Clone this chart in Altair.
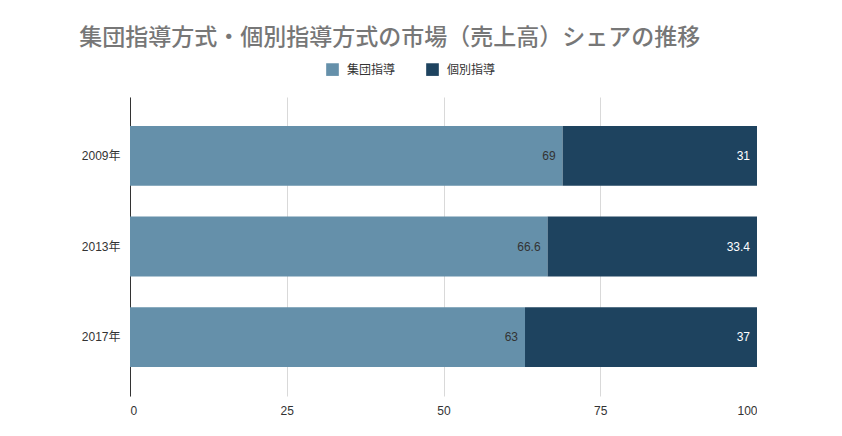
import altair as alt
import pandas as pd

years = ["2009年", "2013年", "2017年"]
group_vals = [69, 66.6, 63]
indiv_vals = [31, 33.4, 37]
series = ["集団指導", "個別指導"]
colors = ["#6590aa", "#1e435f"]

rows = []
for y, g, i in zip(years, group_vals, indiv_vals):
    rows.append({"year": y, "series": series[0], "value": g, "start": 0, "end": g, "ord": 0, "lab": f"{g:g}"})
    rows.append({"year": y, "series": series[1], "value": i, "start": g, "end": g + i, "ord": 1, "lab": f"{i:g}"})
df = pd.DataFrame(rows)

font = "Liberation Sans, Noto Sans CJK JP, sans-serif"

yenc = alt.Y("year:N", sort=years, title=None,
             scale=alt.Scale(paddingInner=0.34, paddingOuter=0.32),
             axis=alt.Axis(labelFont=font, labelFontSize=12, labelColor="#333333",
                           domainColor="#333333", ticks=False, labelPadding=10, grid=False))

bars = alt.Chart(df).mark_bar().encode(
    y=yenc,
    x=alt.X("start:Q", title=None, scale=alt.Scale(domain=[0, 100], nice=False),
            axis=alt.Axis(values=[0, 25, 50, 75, 100], labelFont=font, labelFontSize=12,
                          labelColor="#333333", domain=False, ticks=False, labelPadding=9,
                          grid=True, gridColor="#d9d9d9")),
    x2="end:Q",
    color=alt.Color("series:N", sort=series,
                    scale=alt.Scale(domain=series, range=colors),
                    legend=alt.Legend(title=None, orient="none", direction="horizontal",
                                      legendX=196, legendY=-34, symbolType="square",
                                      symbolSize=160, symbolStrokeWidth=0, labelFont=font,
                                      labelFontSize=12, labelColor="#333333", labelOffset=8,
                                      columnPadding=30, symbolOpacity=1)),
)

labels_light = alt.Chart(df[df["ord"] == 0]).mark_text(
    align="right", dx=-7, font=font, fontSize=12, color="#333333"
).encode(y=alt.Y("year:N", sort=years), x="end:Q", text="lab:N")

labels_dark = alt.Chart(df[df["ord"] == 1]).mark_text(
    align="right", dx=-7, font=font, fontSize=12, color="#ffffff"
).encode(y=alt.Y("year:N", sort=years), x="end:Q", text="lab:N")

chart = alt.layer(bars, labels_light, labels_dark).properties(
    width=627, height=299,
    autosize=alt.AutoSizeParams(type="none"),
    padding={"left": 122, "top": 89, "right": 0, "bottom": 40},
    title=alt.TitleParams("集団指導方式・個別指導方式の市場（売上高）シェアの推移",
                          anchor="start", dx=-2, offset=13, font="Noto Sans CJK JP",
                          fontSize=23, fontWeight=500, color="#777777"),
).configure_view(stroke=None)

chart.save("out.html", embed_options={"renderer": "svg", "actions": False})
